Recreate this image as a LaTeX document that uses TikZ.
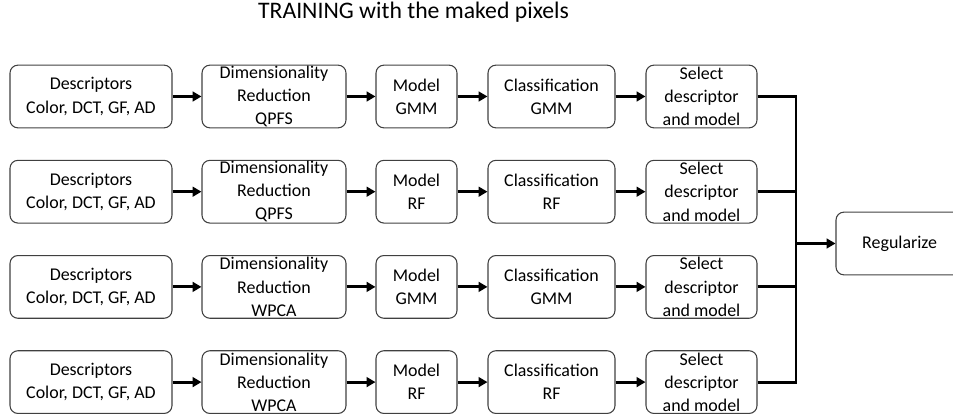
\documentclass[tikz,border=0pt]{standalone}
\usepackage{fontspec}
\setmainfont{Carlito}
\usetikzlibrary{arrows.meta}
\definecolor{Border}{HTML}{404040}
\tikzset{
  blk/.style={draw=Border,line width=0.6pt,rounded corners=4.5pt,inner sep=0pt,minimum height=35.7pt},
  txt/.style={align=center,font=\fontsize{10.2}{13.2}\selectfont},
  arr/.style={line width=1.6pt,-{Triangle[length=5pt,width=5.5pt]}},
  bus/.style={line width=1.6pt}
}
\begin{document}
\begin{tikzpicture}[x=0.02cm,y=-0.02cm]
\useasboundingbox (0,0) rectangle (953,418);
% Title
\node (title) at (413.5,12) {\fontsize{13.5}{16}\selectfont TRAINING with the maked pixels};
% Rows
\foreach \i/\red/\mdl in {1/QPFS/GMM,2/QPFS/RF,3/WPCA/GMM,4/WPCA/RF}{
  \pgfmathsetmacro{\yy}{96.5+95.2*(\i-1)}
  \node [blk,minimum width=162*0.02cm,label={[txt]center:Descriptors\\Color, DCT, GF, AD}] (desc\i) at (91,\yy) {};
  \node [blk,minimum width=144*0.02cm,label={[txt]center:Dimensionality\\Reduction\\\red}] (dim\i) at (274,\yy) {};
  \node [blk,minimum width=81*0.02cm,label={[txt]center:Model\\\mdl}] (mod\i) at (416.5,\yy) {};
  \node [blk,minimum width=127*0.02cm,label={[txt]center:Classification\\\mdl}] (cls\i) at (551.5,\yy) {};
  \node [blk,minimum width=111*0.02cm,label={[txt]center:Select\\descriptor\\and model}] (sel\i) at (701.5,\yy) {};
  \draw [arr] (desc\i) -- (dim\i);
  \draw [arr] (dim\i) -- (mod\i);
  \draw [arr] (mod\i) -- (cls\i);
  \draw [arr] (cls\i) -- (sel\i);
}
% Regularize
\node [blk,minimum width=150*0.02cm] (reg) at (911,243.5) {};
\node [txt,anchor=west] (regtxt) at (856,243.5) {Regularize};
% Bus
\coordinate (join) at (796,243.5);
\foreach \i in {1,...,4}
  \draw [bus] (sel\i.east) -| (join);
\draw [arr] (join) -- (reg.west);
\end{tikzpicture}
\end{document}
